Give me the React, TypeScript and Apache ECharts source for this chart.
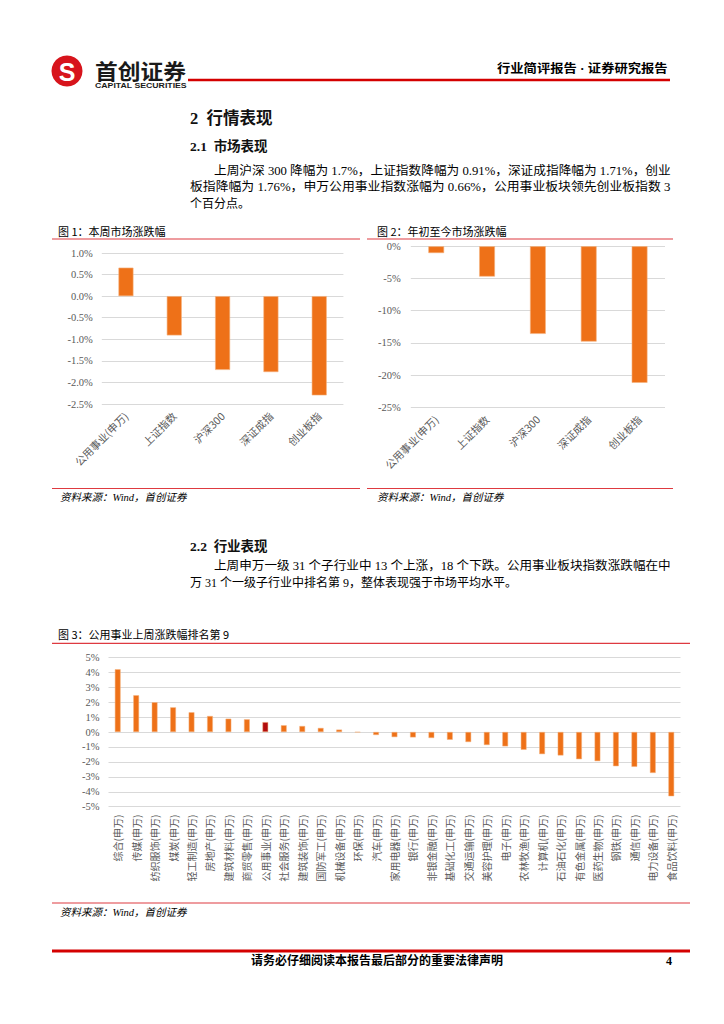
import React, { useEffect, useRef } from "react";
import * as echarts from "echarts";

// ---------- data ----------
const weekCats = ["公用事业(申万)", "上证指数", "沪深300", "深证成指", "创业板指"];
const weekVals = [0.66, -0.91, -1.71, -1.76, -2.3];
const ytdCats = ["公用事业(申万)", "上证指数", "沪深300", "深证成指", "创业板指"];
const ytdVals = [-1.05, -4.7, -13.6, -14.8, -21.2];
const industryCats = [
  "综合(申万)", "传媒(申万)", "纺织服饰(申万)", "煤炭(申万)", "轻工制造(申万)", "房地产(申万)",
  "建筑材料(申万)", "商贸零售(申万)", "公用事业(申万)", "社会服务(申万)", "建筑装饰(申万)",
  "国防军工(申万)", "机械设备(申万)", "环保(申万)", "汽车(申万)", "家用电器(申万)", "银行(申万)",
  "非银金融(申万)", "基础化工(申万)", "交通运输(申万)", "美容护理(申万)", "电子(申万)",
  "农林牧渔(申万)", "计算机(申万)", "石油石化(申万)", "有色金属(申万)", "医药生物(申万)",
  "钢铁(申万)", "通信(申万)", "电力设备(申万)", "食品饮料(申万)",
];
const industryVals = [
  4.2, 2.46, 1.99, 1.65, 1.32, 1.07, 0.89, 0.85, 0.66, 0.45, 0.4, 0.27, 0.16, -0.02, -0.2,
  -0.34, -0.36, -0.4, -0.52, -0.67, -0.87, -0.96, -1.19, -1.48, -1.57, -1.82, -1.95, -2.29,
  -2.33, -2.74, -4.3,
];
const highlightCat = "公用事业(申万)";

const para1 = [
  "上周沪深 300 降幅为 1.7%，上证指数降幅为 0.91%，深证成指降幅为 1.71%，创业",
  "板指降幅为 1.76%，申万公用事业指数涨幅为 0.66%，公用事业板块领先创业板指数 3",
  "个百分点。",
];
const para2 = [
  "上周申万一级 31 个子行业中 13 个上涨，18 个下跌。公用事业板块指数涨跌幅在中",
  "万 31 个一级子行业中排名第 9，整体表现强于市场平均水平。",
];

// ---------- styles ----------
const ORANGE = "#EE7118";
const DARK_RED = "#B20C0C";
const RED = "#D7141C";
const LINE_RED = "#DE3A40";
const GRID = "#D9D9D9";
const TICK = "#595959";
const SERIF = '"Liberation Serif", "Noto Sans CJK SC"';
const SANS = '"Noto Sans CJK SC", "Noto Sans", sans-serif';

let measureCtx: CanvasRenderingContext2D | null = null;
function measure(text: string, font: string) {
  if (!measureCtx) measureCtx = document.createElement("canvas").getContext("2d");
  if (!measureCtx) return 0;
  measureCtx.font = font;
  return measureCtx.measureText(text).width;
}

function txt(text: string, x: number, y: number, o: any = {}) {
  const size = o.size ?? 12;
  const family = o.family ?? SANS;
  const weight = o.weight ?? "normal";
  const fstyle = o.fontStyle ?? "normal";
  const align = o.align ?? "left";
  const inner: any = {
    type: "text",
    x: 0,
    y: 0,
    silent: true,
    style: {
      text,
      fontSize: size,
      fontFamily: family,
      fontWeight: weight,
      fontStyle: fstyle,
      fill: o.fill ?? "#000",
      textAlign: align,
      align,
      textVerticalAlign: "middle",
      verticalAlign: "middle",
    },
  };
  if (o.width) {
    const w = measure(text, `${fstyle} ${weight} ${size}px ${family}`);
    if (w > 0) {
      const s = o.width / w;
      if (s > 0.8 && s < 1.3) inner.scaleX = s;
    }
  }
  return { type: "group", x, y, silent: true, children: [inner] };
}

function hline(x1: number, x2: number, y: number, color: string, w: number) {
  return { type: "line", silent: true, shape: { x1, y1: y, x2, y2: y }, style: { stroke: color, lineWidth: w } };
}

function buildOption() {
  const g: any[] = [];
  // header
  g.push({ type: "circle", shape: { cx: 67, cy: 71, r: 15.5 }, style: { fill: RED } });
  g.push(txt("S", 67, 72, { size: 25, weight: "bold", family: '"Liberation Sans", sans-serif', fill: "#fff", align: "center" }));
  g.push(txt("首创证券", 95, 70, { size: 21, weight: "bold", fill: "#1a1a1a", width: 91 }));
  g.push(txt("CAPITAL SECURITIES", 95, 86, { size: 7.5, weight: "bold", family: '"Liberation Sans", sans-serif', fill: "#1a1a1a", width: 92 }));
  g.push(hline(188, 670, 80, "#D40000", 2.5));
  g.push(txt("行业简评报告 · 证券研究报告", 497, 69, { size: 12, weight: "bold", family: SERIF, width: 171 }));

  // section 2
  g.push(txt("2  行情表现", 190, 118.5, { size: 16.5, weight: "bold", family: SERIF, fill: "#111" }));
  g.push(txt("2.1  市场表现", 190, 146.5, { size: 13.5, weight: "bold", family: SERIF, fill: "#111" }));
  g.push(txt(para1[0], 214, 171, { size: 12, family: SERIF, width: 457 }));
  g.push(txt(para1[1], 190, 187.5, { size: 12, family: SERIF, width: 481 }));
  g.push(txt(para1[2], 190, 203.5, { size: 12, family: SERIF }));

  // figure 1 & 2 frames
  g.push(txt("图 1：本周市场涨跌幅", 58, 230.5, { size: 11 }));
  g.push(hline(52, 360, 239, LINE_RED, 1.2));
  g.push(txt("图 2：年初至今市场涨跌幅", 377, 230.5, { size: 11 }));
  g.push(hline(367, 673, 239, LINE_RED, 1.2));
  g.push(hline(52, 360, 488.5, LINE_RED, 1.2));
  g.push(hline(367, 673, 488.5, LINE_RED, 1.2));
  g.push(txt("资料来源：Wind，首创证券", 60, 497, { size: 10.5, family: SERIF, fontStyle: "italic" }));
  g.push(txt("资料来源：Wind，首创证券", 377, 497, { size: 10.5, family: SERIF, fontStyle: "italic" }));

  // section 2.2
  g.push(txt("2.2  行业表现", 190, 546, { size: 13.5, weight: "bold", family: SERIF, fill: "#111" }));
  g.push(txt(para2[0], 214, 566.5, { size: 12, family: SERIF, width: 457 }));
  g.push(txt(para2[1], 190, 583, { size: 12, family: SERIF }));

  // figure 3
  g.push(txt("图 3：公用事业上周涨跌幅排名第 9", 58, 634, { size: 11 }));
  g.push(hline(52, 690, 643.3, LINE_RED, 1.2));
  g.push(hline(52, 690, 903, LINE_RED, 1.2));
  g.push(txt("资料来源：Wind，首创证券", 60, 912, { size: 10.5, family: SERIF, fontStyle: "italic" }));

  // footer
  g.push(hline(52, 690, 951, "#D40000", 3));
  g.push(txt("请务必仔细阅读本报告最后部分的重要法律声明", 377, 961, { size: 12, weight: "bold", family: SERIF, align: "center" }));
  g.push(txt("4", 672, 961, { size: 12, weight: "bold", family: SERIF, align: "right" }));

  const yLabel = (fmt: (v: number) => string, margin: number) => ({
    color: TICK,
    fontSize: 10.5,
    fontFamily: '"Liberation Serif", serif',
    margin,
    formatter: fmt,
  });
  const splitLine = { show: true, lineStyle: { color: GRID, width: 1 } };
  const xLabel = (rotate: number, size: number, margin: number) => ({
    rotate,
    interval: 0,
    fontSize: size,
    color: TICK,
    fontFamily: SANS,
    margin,
  });

  return {
    animation: false,
    backgroundColor: "#fff",
    graphic: { elements: g },
    grid: [
      { left: 101.8, top: 253, width: 241.6, height: 151, containLabel: false },
      { left: 410.8, top: 246.3, width: 254.2, height: 161, containLabel: false },
      { left: 108.5, top: 657.3, width: 572, height: 149.4, containLabel: false },
    ],
    xAxis: [
      { type: "category", gridIndex: 0, data: weekCats, axisLine: { show: false }, axisTick: { show: false }, axisLabel: xLabel(45, 10.5, 10) },
      { type: "category", gridIndex: 1, data: ytdCats, axisLine: { show: false }, axisTick: { show: false }, axisLabel: xLabel(45, 10.5, 10) },
      { type: "category", gridIndex: 2, data: industryCats, axisLine: { show: false }, axisTick: { show: false }, axisLabel: xLabel(90, 10, 8) },
    ],
    yAxis: [
      { type: "value", gridIndex: 0, min: -2.5, max: 1, interval: 0.5, axisLine: { show: false }, axisTick: { show: false }, splitLine, axisLabel: yLabel((v: number) => v.toFixed(1) + "%", 9) },
      { type: "value", gridIndex: 1, min: -25, max: 0, interval: 5, axisLine: { show: false }, axisTick: { show: false }, splitLine, axisLabel: yLabel((v: number) => Math.round(v) + "%", 10) },
      { type: "value", gridIndex: 2, min: -5, max: 5, interval: 1, axisLine: { show: false }, axisTick: { show: false }, splitLine, axisLabel: yLabel((v: number) => Math.round(v) + "%", 9) },
    ],
    series: [
      {
        type: "bar", xAxisIndex: 0, yAxisIndex: 0, data: weekVals, barWidth: "31%",
        itemStyle: { color: ORANGE, borderColor: "#F5B27E", borderWidth: 0.6 },
      },
      {
        type: "bar", xAxisIndex: 1, yAxisIndex: 1, data: ytdVals, barWidth: "31%",
        itemStyle: { color: ORANGE, borderColor: "#F5B27E", borderWidth: 0.6 },
      },
      {
        type: "bar", xAxisIndex: 2, yAxisIndex: 2, barWidth: "31%",
        data: industryVals.map((v, i) => ({
          value: v,
          itemStyle: { color: industryCats[i] === highlightCat ? DARK_RED : ORANGE },
        })),
        itemStyle: { color: ORANGE, borderColor: "#F5B27E", borderWidth: 0.5 },
      },
    ],
  };
}

export default function App() {
  const ref = useRef<HTMLDivElement>(null);
  useEffect(() => {
    if (!ref.current) return;
    const chart = echarts.init(ref.current, null, { renderer: "svg", width: 724, height: 1024 });
    chart.setOption(buildOption() as any);
    return () => chart.dispose();
  }, []);
  return (
    <div
      ref={ref}
      style={{ position: "absolute", left: 0, top: 0, width: 724, height: 1024, background: "#fff" }}
    />
  );
}
